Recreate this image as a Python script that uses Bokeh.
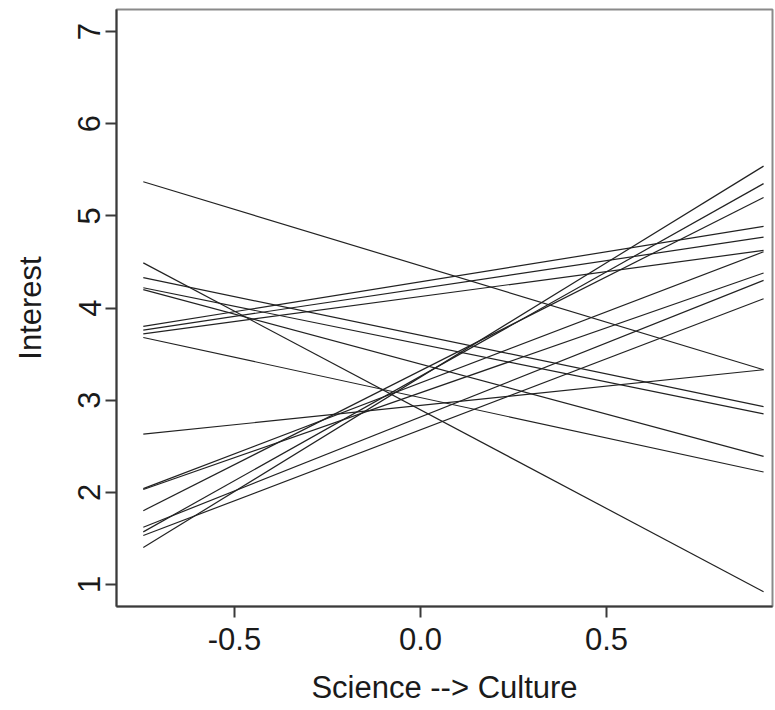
from bokeh.plotting import figure
from bokeh.models import Range1d, FixedTicker
from bokeh.embed import file_html
from bokeh.resources import INLINE

# predictor range (Science --> Culture)
x_start = -0.745
x_end = 0.922

# fitted line values at left and right end of the predictor range
y_start = [5.37, 4.49, 4.33, 4.22, 4.20, 3.68, 2.63,
           3.80, 3.76, 3.72,
           1.40, 1.57, 1.80, 2.04, 2.03, 1.62, 1.53]
y_end = [3.33, 0.92, 2.93, 2.85, 2.39, 2.22, 3.33,
         4.885, 4.77, 4.625,
         5.54, 5.35, 5.20, 4.61, 4.38, 4.30, 4.10]

x_ticks = [-0.5, 0.0, 0.5]
x_tick_labels = ["-0.5", "0.0", "0.5"]
y_ticks = [1, 2, 3, 4, 5, 6, 7]

FONT = "Liberation Sans"

p = figure(width=775, height=710, output_backend="svg", toolbar_location=None,
           x_range=Range1d(-0.817, 0.946), y_range=Range1d(0.76, 7.24),
           min_border_left=116, min_border_right=3, min_border_top=9,
           min_border_bottom=104)

p.segment(x0=[x_start] * len(y_start), y0=y_start,
          x1=[x_end] * len(y_end), y1=y_end,
          line_color="#222222", line_width=1.2)

p.xgrid.visible = False
p.ygrid.visible = False
p.background_fill_color = "white"
p.border_fill_color = "white"
p.outline_line_color = "#8a8a8a"
p.outline_line_width = 2

for ax in (p.xaxis[0], p.yaxis[0]):
    ax.axis_line_color = "#3a3a3a"
    ax.axis_line_width = 2
    ax.major_tick_line_color = "#3a3a3a"
    ax.major_tick_line_width = 2
    ax.major_tick_in = 0
    ax.major_tick_out = 11
    ax.minor_tick_line_color = None
    ax.major_label_text_font = FONT
    ax.major_label_text_font_size = "31px"
    ax.major_label_text_color = "#1a1a1a"
    ax.axis_label_text_font = FONT
    ax.axis_label_text_font_size = "31px"
    ax.axis_label_text_font_style = "normal"
    ax.axis_label_text_color = "#1a1a1a"

p.xaxis[0].ticker = FixedTicker(ticks=x_ticks)
p.xaxis[0].major_label_overrides = {t: s for t, s in zip(x_ticks, x_tick_labels)}
p.xaxis[0].axis_label = "Science --> Culture"
p.xaxis[0].major_label_standoff = 10
p.xaxis[0].axis_label_standoff = 17

p.yaxis[0].ticker = FixedTicker(ticks=y_ticks)
p.yaxis[0].axis_label = "Interest"
p.yaxis[0].major_label_orientation = "vertical"
p.yaxis[0].major_label_standoff = 5
p.yaxis[0].axis_label_standoff = 28

open("out.html", "w").write(file_html(p, INLINE))
